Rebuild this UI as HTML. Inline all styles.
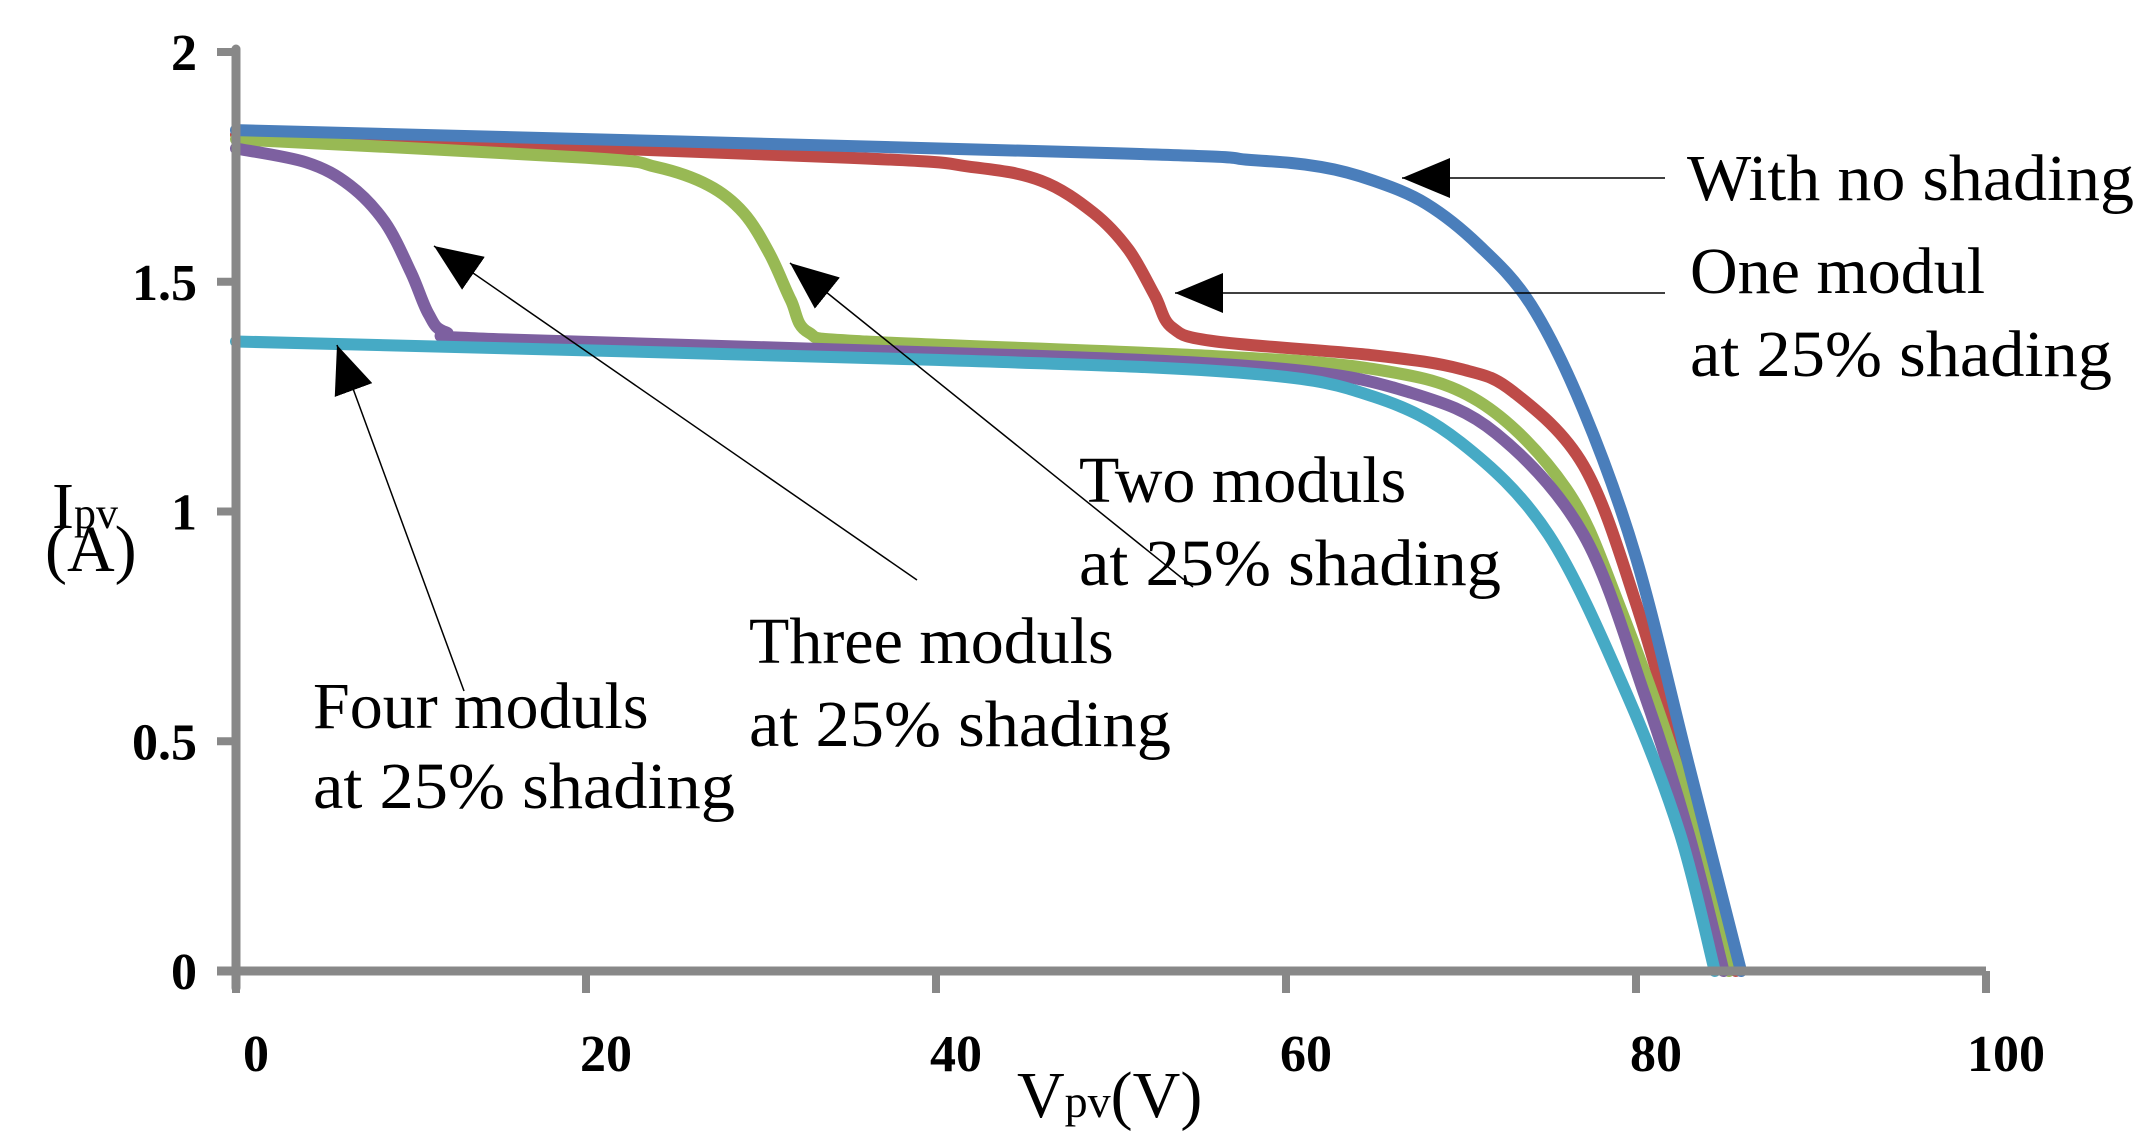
<!DOCTYPE html>
<html><head><meta charset="utf-8"><style>
html,body{margin:0;padding:0;background:#fff;}
svg{display:block;font-family:"Liberation Serif",serif;}
</style></head><body>
<svg id="chart" width="2148" height="1147" viewBox="0 0 2148 1147" xmlns="http://www.w3.org/2000/svg">
<defs><marker id="ah" viewBox="0 0 10 10" refX="10" refY="5" markerWidth="48" markerHeight="40" markerUnits="userSpaceOnUse" orient="auto" preserveAspectRatio="none"><path d="M10,5 L0,0 L0,10 Z" fill="#000"/></marker></defs>
<g id="series"></g>
<g id="axes"></g>
<g font-size="66" fill="#000">
<text x="1687" y="200" textLength="447" lengthAdjust="spacingAndGlyphs">With no shading</text>
<text x="1690" y="293">One modul</text>
<text x="1690" y="376" textLength="422" lengthAdjust="spacingAndGlyphs">at 25% shading</text>
<text x="1079" y="502">Two moduls</text>
<text x="1079" y="585" textLength="422" lengthAdjust="spacingAndGlyphs">at 25% shading</text>
<text x="749" y="663">Three moduls</text>
<text x="749" y="746" textLength="422" lengthAdjust="spacingAndGlyphs">at 25% shading</text>
<text x="313" y="728">Four moduls</text>
<text x="313" y="808" textLength="422" lengthAdjust="spacingAndGlyphs">at 25% shading</text>
<text x="52" y="528">I<tspan font-size="44">pv</tspan></text>
<text x="45" y="571">(A)</text>
<text x="1017" y="1117">V<tspan font-size="46">pv</tspan>(V)</text>
</g>
<g stroke="#000" stroke-width="1.5">
<line x1="1665" y1="178" x2="1402" y2="178" marker-end="url(#ah)"/>
<line x1="1665" y1="293" x2="1175" y2="293" marker-end="url(#ah)"/>
<line x1="1193" y1="587" x2="790" y2="263" marker-end="url(#ah)"/>
<line x1="917" y1="580" x2="434" y2="246" marker-end="url(#ah)"/>
<line x1="464" y1="691" x2="337" y2="345" marker-end="url(#ah)"/>
</g>
</svg>
<script>
const xTicks=[0,20,40,60,80,100];
const yTicks=[0,0.5,1,1.5,2];
const yTickLabels=["0","0.5","1","1.5","2"];
const seriesNames=["one-modul","two-moduls","three-moduls","four-moduls","no-shading"];
const seriesColors=["#be4b48","#98b954","#7d60a0","#46aac5","#4a7ebb"];
const vOne=[0,35,42,46,49,51,52.5,53.5,56,65,70,73,77,80,83,85.7];
const iOne=[1.82,1.77,1.75,1.72,1.65,1.57,1.47,1.40,1.37,1.34,1.31,1.26,1.1,0.8,0.4,0];
const vTwo=[0,20,24,27,29,30.5,31.7,32.7,36,55,65,71,76,79,82.7,85.3];
const iTwo=[1.81,1.77,1.75,1.71,1.65,1.56,1.46,1.39,1.37,1.34,1.31,1.24,1.05,0.8,0.4,0];
const vThree=[0,4,6.5,8.5,10,11,12,15,45,60,67,72,77,80.5,83,85];
const iThree=[1.79,1.76,1.71,1.63,1.52,1.43,1.39,1.375,1.34,1.31,1.26,1.17,0.95,0.6,0.3,0];
const vFour=[0,40,58,65,70,75,79.5,82.5,84.5];
const iFour=[1.37,1.33,1.30,1.25,1.15,0.95,0.6,0.3,0];
const vNone=[0,50,58,62,65,68,71,74,77,80,83,86];
const iNone=[1.83,1.78,1.765,1.75,1.72,1.67,1.58,1.45,1.22,0.9,0.45,0];
const seriesV=[vOne,vTwo,vThree,vFour,vNone];
const seriesI=[iOne,iTwo,iThree,iFour,iNone];
const X0=236,XS=17.5,Y0=971,YS=459.5;
function xs(v){return X0+v*XS;}
function ys(i){return Y0-i*YS;}
const NS="http://www.w3.org/2000/svg";
const axes=document.getElementById('axes');
function mk(tag,attrs,parent){const e=document.createElementNS(NS,tag);for(const k in attrs)e.setAttribute(k,attrs[k]);parent.appendChild(e);return e;}
const ya=mk('line',{x1:xs(0),y1:ys(2)-3,x2:xs(0),y2:Y0+17,stroke:'#888','stroke-width':9,'stroke-linecap':'round'},axes);


const xa=mk('line',{x1:xs(0)-19,y1:Y0,x2:xs(100),y2:Y0,stroke:'#888','stroke-width':9},axes);


xTicks.forEach(t=>{
  const l=mk('line',{x1:xs(t),y1:Y0,x2:xs(t),y2:Y0+22,stroke:'#888','stroke-width':8},axes);
  
  
  const tx=mk('text',{x:xs(t)+20,y:1071,'font-size':52,'font-weight':'bold','text-anchor':'middle'},axes);
  
  
  tx.textContent=String(t);
});
yTicks.forEach((t,k)=>{
  const l=mk('line',{x1:xs(0)-19,y1:ys(t),x2:xs(0),y2:ys(t),stroke:'#888','stroke-width':8},axes);
  
  
  const tx=mk('text',{x:197,y:ys(t)+18,'font-size':52,'font-weight':'bold','text-anchor':'end'},axes);
  
  
  tx.textContent=yTickLabels[k];
});
const sg=document.getElementById('series');
function pathFor(vs,is){
  const p=vs.map((v,k)=>[xs(v),ys(is[k])]);
  let d='M'+p[0][0]+','+p[0][1];
  for(let k=0;k<p.length-1;k++){
    const a=p[Math.max(0,k-1)],b=p[k],c=p[k+1],e=p[Math.min(p.length-1,k+2)];
    const c1=[b[0]+(c[0]-a[0])/6,b[1]+(c[1]-a[1])/6];
    const c2=[c[0]-(e[0]-b[0])/6,c[1]-(e[1]-b[1])/6];
    d+=' C'+c1[0].toFixed(1)+','+c1[1].toFixed(1)+' '+c2[0].toFixed(1)+','+c2[1].toFixed(1)+' '+c[0].toFixed(1)+','+c[1].toFixed(1);
  }
  return d;
}
seriesV.forEach((vs,s)=>{
  const p=mk('path',{d:pathFor(vs,seriesI[s]),fill:'none',stroke:seriesColors[s],'stroke-width':12,'stroke-linecap':'round','stroke-linejoin':'round'},sg);
  
  
});
</script>
</body></html>
